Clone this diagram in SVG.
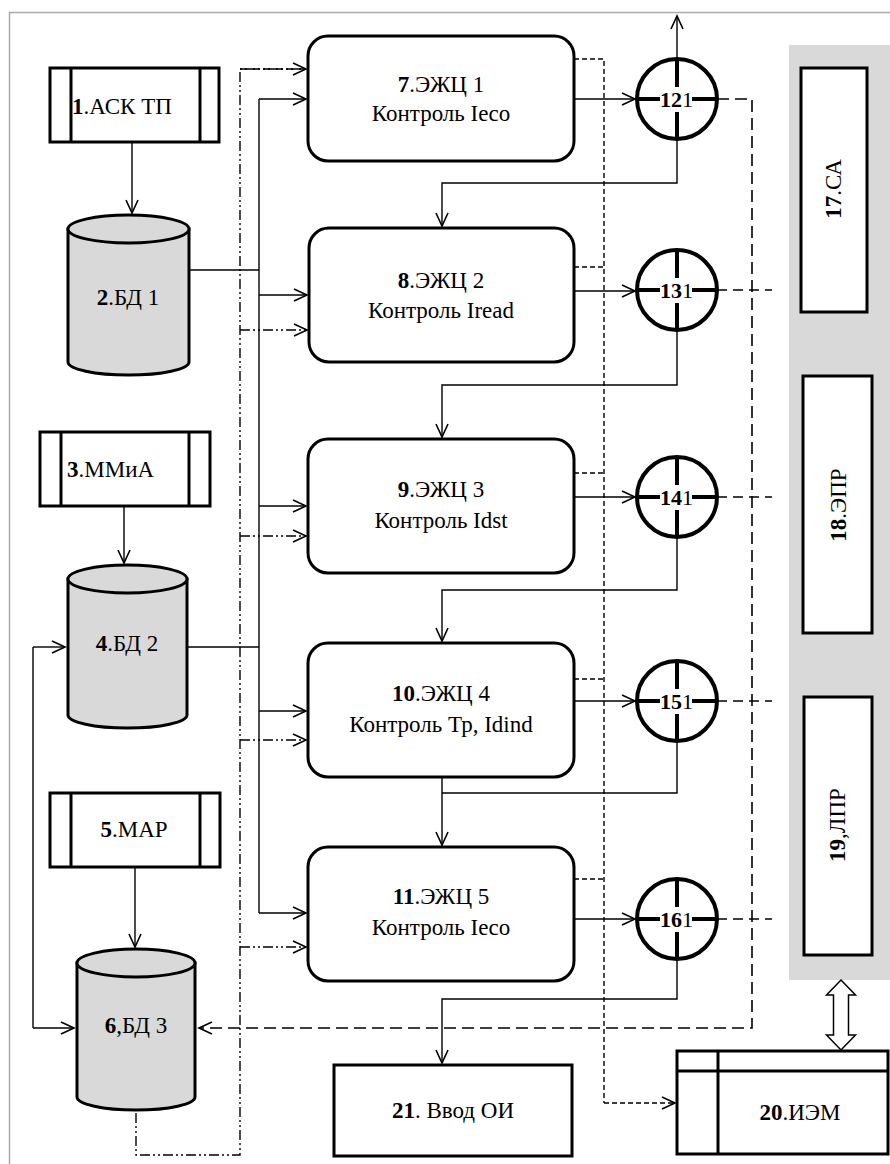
<svg xmlns="http://www.w3.org/2000/svg" width="890" height="1164" viewBox="0 0 890 1164" font-family="'Liberation Serif', 'Times New Roman', 'DejaVu Serif', serif">
<style>
text{font-family:'Liberation Serif','Times New Roman','DejaVu Serif',serif;font-size:23px;fill:#000}
.b{font-weight:bold}
.n{font-weight:normal}
.c{font-size:22px}
.thick{fill:#fff;stroke:#000;stroke-width:3}
.cyl{fill:#d9d9d9;stroke:#000;stroke-width:3}
.ln{fill:none;stroke:#000;stroke-width:1.4}
.dd{fill:none;stroke:#000;stroke-width:1.4;stroke-dasharray:10,3,2,3,2,3}
.sd{fill:none;stroke:#000;stroke-width:1.4;stroke-dasharray:5,3}
.ld{fill:none;stroke:#000;stroke-width:1.6;stroke-dasharray:12,6}
.md{fill:none;stroke:#000;stroke-width:1.4;stroke-dasharray:10,6}
.cr{fill:none;stroke:#000;stroke-width:4}
</style>
<defs>
<marker id="a" markerUnits="userSpaceOnUse" markerWidth="16" markerHeight="16" viewBox="-14 -8 16 16" refX="0" refY="0" orient="auto">
<path d="M-13,-6 L0,0 L-13,6" fill="none" stroke="#000" stroke-width="1.6"/>
</marker>
</defs>
<rect x="9.5" y="12.5" width="890" height="1170" fill="#fff" stroke="#aaa" stroke-width="1.5"/>
<rect x="789" y="45" width="101" height="935" fill="#d9d9d9"/>

<g id="connectors">
<line class="ln" x1="132" y1="142" x2="132" y2="213" marker-end="url(#a)"/>
<line class="ln" x1="124" y1="506" x2="124" y2="563" marker-end="url(#a)"/>
<line class="ln" x1="135" y1="867" x2="135" y2="947" marker-end="url(#a)"/>
<line class="ln" x1="189" y1="270" x2="259" y2="270"/>
<line class="ln" x1="187" y1="647" x2="259" y2="647"/>
<line class="ln" x1="259" y1="99" x2="259" y2="913"/>
<line class="ln" x1="259" y1="99" x2="306" y2="99" marker-end="url(#a)"/>
<line class="ln" x1="259" y1="295" x2="307" y2="295" marker-end="url(#a)"/>
<line class="ln" x1="259" y1="506" x2="306" y2="506" marker-end="url(#a)"/>
<line class="ln" x1="259" y1="711" x2="306" y2="711" marker-end="url(#a)"/>
<line class="ln" x1="259" y1="913" x2="306" y2="913" marker-end="url(#a)"/>
<polyline class="dd" points="306,69 240,69 240,1155 136,1155 136,1110"/>
<line class="dd" x1="240" y1="69" x2="306" y2="69" marker-end="url(#a)"/>
<line class="dd" x1="240" y1="330" x2="307" y2="330" marker-end="url(#a)"/>
<line class="dd" x1="240" y1="536" x2="306" y2="536" marker-end="url(#a)"/>
<line class="dd" x1="240" y1="740" x2="306" y2="740" marker-end="url(#a)"/>
<line class="dd" x1="240" y1="947" x2="306" y2="947" marker-end="url(#a)"/>
<line class="ln" x1="33" y1="647" x2="33" y2="1028"/>
<line class="ln" x1="33" y1="647" x2="65" y2="647" marker-end="url(#a)"/>
<line class="ln" x1="33" y1="1028" x2="74" y2="1028" marker-end="url(#a)"/>
<line class="ln" x1="574" y1="99" x2="635" y2="99" marker-end="url(#a)"/>
<line class="ln" x1="574" y1="291" x2="635" y2="291" marker-end="url(#a)"/>
<line class="ln" x1="574" y1="497" x2="635" y2="497" marker-end="url(#a)"/>
<line class="ln" x1="574" y1="701" x2="635" y2="701" marker-end="url(#a)"/>
<line class="ln" x1="574" y1="919" x2="635" y2="919" marker-end="url(#a)"/>
<line class="ln" x1="677" y1="59" x2="677" y2="16" marker-end="url(#a)"/>
<polyline class="ln" points="677,139 677,183 442,183 442,226" marker-end="url(#a)"/>
<polyline class="ln" points="677,330 677,385 442,385 442,437" marker-end="url(#a)"/>
<polyline class="ln" points="677,537 677,590 442,590 442,641" marker-end="url(#a)"/>
<polyline class="ln" points="677,741 677,793 442,793"/>
<line class="ln" x1="442" y1="777" x2="442" y2="845" marker-end="url(#a)"/>
<polyline class="ln" points="677,959 677,999 442,999 442,1063" marker-end="url(#a)"/>
<polyline class="sd" points="574,59 604,59 604,1103"/>
<line class="sd" x1="574" y1="267" x2="604" y2="267"/>
<line class="sd" x1="574" y1="473" x2="604" y2="473"/>
<line class="sd" x1="574" y1="679" x2="604" y2="679"/>
<line class="sd" x1="574" y1="879" x2="604" y2="879"/>
<line class="sd" x1="604" y1="1103" x2="675" y2="1103" marker-end="url(#a)"/>
<polyline class="ld" points="717,99 752,99 752,1028 199,1028" marker-end="url(#a)"/>
<line class="md" x1="717" y1="290" x2="772" y2="290"/>
<line class="md" x1="717" y1="497" x2="772" y2="497"/>
<line class="md" x1="717" y1="701" x2="772" y2="701"/>
<line class="md" x1="717" y1="919" x2="772" y2="919"/>
<path d="M841,980 L855.5,995 L848.5,995 L848.5,1035 L855.5,1035 L841,1050 L826.5,1035 L833.5,1035 L833.5,995 L826.5,995 Z" fill="#fff" stroke="#000" stroke-width="1.5"/>
</g>

<g id="n1">
<rect class="thick" x="50" y="68" width="169" height="74"/>
<line class="thick" x1="71" y1="68" x2="71" y2="142"/>
<line class="thick" x1="200" y1="68" x2="200" y2="142"/>
<text x="72" y="114"><tspan class="b">1</tspan>.АСК ТП</text>
</g>
<g id="n2">
<path class="cyl" d="M68,229 L68,362 A60.5,13 0 0 0 189,362 L189,229 Z"/>
<ellipse class="cyl" cx="128.5" cy="229" rx="60.5" ry="14" stroke-width="2.5"/>
<text x="128" y="305" text-anchor="middle"><tspan class="b">2</tspan>.БД 1</text>
</g>
<g id="n3">
<rect class="thick" x="40" y="432" width="170" height="74"/>
<line class="thick" x1="61" y1="432" x2="61" y2="506"/>
<line class="thick" x1="189" y1="432" x2="189" y2="506"/>
<text x="67" y="477"><tspan class="b">3</tspan>.ММиА</text>
</g>
<g id="n4">
<path class="cyl" d="M68,579 L68,715 A59.5,13 0 0 0 187,715 L187,579 Z"/>
<ellipse class="cyl" cx="127.5" cy="579" rx="59.5" ry="14" stroke-width="2.5"/>
<text x="127" y="651" text-anchor="middle"><tspan class="b">4</tspan>.БД 2</text>
</g>
<g id="n5">
<rect class="thick" x="50" y="793" width="170" height="74"/>
<line class="thick" x1="71" y1="793" x2="71" y2="867"/>
<line class="thick" x1="200" y1="793" x2="200" y2="867"/>
<text x="134" y="837" text-anchor="middle"><tspan class="b">5</tspan>.МАР</text>
</g>
<g id="n6">
<path class="cyl" d="M77,963 L77,1097 A59,13 0 0 0 195,1097 L195,963 Z"/>
<ellipse class="cyl" cx="136" cy="963" rx="59" ry="14" stroke-width="2.5"/>
<text x="136" y="1033" text-anchor="middle"><tspan class="b">6</tspan>,БД 3</text>
</g>

<g id="n7">
<rect class="thick" x="308" y="36" width="266" height="125" rx="20"/>
<text x="441" y="92" text-anchor="middle"><tspan class="b">7</tspan>.ЭЖЦ 1</text>
<text x="441" y="121" text-anchor="middle">Контроль Iеco</text>
</g>
<g id="n8">
<rect class="thick" x="309" y="228" width="265" height="134" rx="20"/>
<text x="441" y="288" text-anchor="middle"><tspan class="b">8</tspan>.ЭЖЦ 2</text>
<text x="441" y="318" text-anchor="middle">Контроль Iread</text>
</g>
<g id="n9">
<rect class="thick" x="308" y="439" width="266" height="134" rx="20"/>
<text x="441" y="497" text-anchor="middle"><tspan class="b">9</tspan>.ЭЖЦ 3</text>
<text x="441" y="528" text-anchor="middle">Контроль Idst</text>
</g>
<g id="n10">
<rect class="thick" x="308" y="643" width="266" height="134" rx="20"/>
<text x="441" y="701" text-anchor="middle"><tspan class="b">10</tspan>.ЭЖЦ 4</text>
<text x="441" y="732" text-anchor="middle">Контроль Тр, Idind</text>
</g>
<g id="n11">
<rect class="thick" x="308" y="847" width="266" height="134" rx="20"/>
<text x="441" y="904" text-anchor="middle"><tspan class="b">11</tspan>.ЭЖЦ 5</text>
<text x="441" y="935" text-anchor="middle">Контроль Iеco</text>
</g>

<g id="n12">
<circle cx="677" cy="99" r="40" fill="#fff" stroke="#000" stroke-width="4"/>
<path class="cr" d="M677,59 V87 M677,112 V139 M637,99 H660 M692,99 H717"/>
<text class="b c" x="660" y="107">12<tspan class="n">1</tspan></text>
</g>
<g id="n13">
<circle cx="677" cy="290" r="40" fill="#fff" stroke="#000" stroke-width="4"/>
<path class="cr" d="M677,250 V278 M677,303 V330 M637,290 H660 M692,290 H717"/>
<text class="b c" x="660" y="298">13<tspan class="n">1</tspan></text>
</g>
<g id="n14">
<circle cx="677" cy="497" r="40" fill="#fff" stroke="#000" stroke-width="4"/>
<path class="cr" d="M677,457 V485 M677,510 V537 M637,497 H660 M692,497 H717"/>
<text class="b c" x="660" y="505">14<tspan class="n">1</tspan></text>
</g>
<g id="n15">
<circle cx="677" cy="701" r="40" fill="#fff" stroke="#000" stroke-width="4"/>
<path class="cr" d="M677,661 V689 M677,714 V741 M637,701 H660 M692,701 H717"/>
<text class="b c" x="660" y="709">15<tspan class="n">1</tspan></text>
</g>
<g id="n16">
<circle cx="677" cy="919" r="40" fill="#fff" stroke="#000" stroke-width="4"/>
<path class="cr" d="M677,879 V907 M677,932 V959 M637,919 H660 M692,919 H717"/>
<text class="b c" x="660" y="927">16<tspan class="n">1</tspan></text>
</g>

<g id="n17">
<rect class="thick" x="801" y="68" width="66" height="244"/>
<text transform="translate(841,189) rotate(-90)" text-anchor="middle"><tspan class="b">17</tspan>.СА</text>
</g>
<g id="n18">
<rect class="thick" x="803" y="376" width="69" height="257"/>
<text transform="translate(846,505) rotate(-90)" text-anchor="middle"><tspan class="b">18</tspan>.ЭПР</text>
</g>
<g id="n19">
<rect class="thick" x="804" y="697" width="68" height="258"/>
<text transform="translate(845,825) rotate(-90)" text-anchor="middle"><tspan class="b">19</tspan>,ЛПР</text>
</g>
<g id="n20">
<rect class="thick" x="677" y="1051" width="211" height="103"/>
<line class="thick" x1="677" y1="1071" x2="888" y2="1071"/>
<line class="thick" x1="718" y1="1051" x2="718" y2="1154"/>
<text x="800" y="1120" text-anchor="middle"><tspan class="b">20</tspan>.ИЭМ</text>
</g>
<g id="n21">
<rect class="thick" x="334" y="1065" width="238" height="91"/>
<text x="453" y="1118" text-anchor="middle"><tspan class="b">21</tspan>. Ввод ОИ</text>
</g>
</svg>
